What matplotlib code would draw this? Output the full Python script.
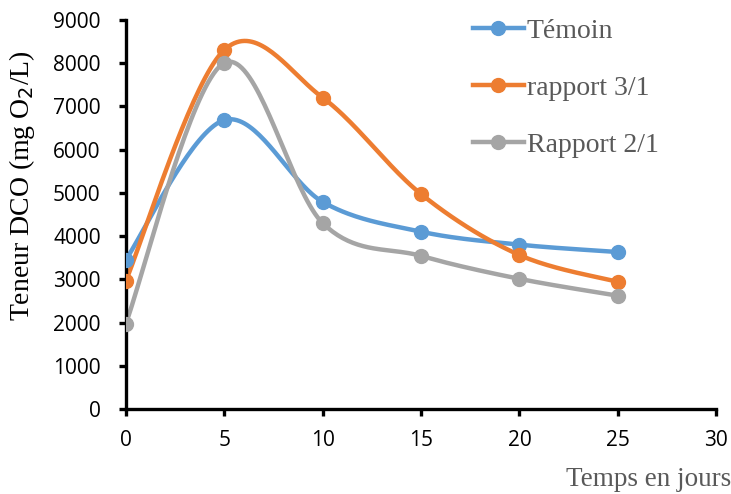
import matplotlib
matplotlib.use('agg')
import matplotlib.pyplot as plt
import numpy as np

jours = [0, 5, 10, 15, 20, 25]
temoin = [3450, 6680, 4790, 4100, 3800, 3630]
rapport_31 = [2960, 8300, 7200, 4970, 3560, 2940]
rapport_21 = [1970, 8000, 4300, 3540, 3010, 2620]

series = [("Témoin", temoin, "#5B9BD5"),
          ("rapport 3/1", rapport_31, "#ED7D31"),
          ("Rapport 2/1", rapport_21, "#A5A5A5")]


def smooth(x, y, n=40):
    # Excel-style smoothed line: Bezier segments with Catmull-Rom control points
    x = np.asarray(x, float)
    y = np.asarray(y, float)
    px = np.concatenate([[x[0]], x, [x[-1]]])
    py = np.concatenate([[y[0]], y, [y[-1]]])
    t = np.linspace(0, 1, n)[:, None]
    out_x, out_y = [], []
    for i in range(1, len(px) - 2):
        p0 = np.array([px[i], py[i]])
        p3 = np.array([px[i + 1], py[i + 1]])
        p1 = p0 + (np.array([px[i + 1], py[i + 1]]) - np.array([px[i - 1], py[i - 1]])) / 6
        p2 = p3 - (np.array([px[i + 2], py[i + 2]]) - np.array([px[i], py[i]])) / 6
        b = ((1 - t) ** 3) * p0 + 3 * ((1 - t) ** 2) * t * p1 + 3 * (1 - t) * t ** 2 * p2 + t ** 3 * p3
        out_x.extend(b[:, 0])
        out_y.extend(b[:, 1])
    return out_x, out_y


fig = plt.figure(figsize=(7.31, 4.94), dpi=100)
ax = fig.add_axes([0.172, 0.172, 0.808, 0.788])

for name, vals, col in series:
    sx, sy = smooth(jours, vals)
    ax.plot(sx, sy, color=col, lw=3.2, solid_capstyle='round', zorder=2)
    ax.plot(jours, vals, 'o', color=col, ms=10, zorder=3)
    ax.plot([], [], '-o', color=col, lw=3.2, ms=10, label=name)

ax.set_xlim(0, 30)
ax.set_ylim(0, 9000)
ax.set_xticks(range(0, 31, 5))
ax.set_yticks(range(0, 9001, 1000))
for s in ['top', 'right']:
    ax.spines[s].set_visible(False)
for s in ['left', 'bottom']:
    ax.spines[s].set_linewidth(2.4)
ax.tick_params(width=2.4, length=5, direction='out')
ax.tick_params(axis='y', pad=13)
ax.tick_params(axis='x', pad=10)
for lab in ax.get_xticklabels() + ax.get_yticklabels():
    lab.set_family('Open Sans')
    lab.set_fontsize(15)

ax.set_ylabel("Teneur DCO (mg O$_2$/L)", family='Liberation Serif', fontsize=20)
ax.yaxis.set_label_coords(-0.15, 0.575)
ax.set_xlabel("Temps en jours", family='Liberation Serif', fontsize=19.5, color='#595959', ha='right')
ax.xaxis.set_label_coords(1.025, -0.148)

leg = ax.legend(loc='upper left', bbox_to_anchor=(0.545, 1.068), frameon=False,
                prop={'family': 'Liberation Serif', 'size': 20},
                handlelength=1.85, handletextpad=0.1, labelspacing=1.14)
for t in leg.get_texts():
    t.set_color('#595959')

fig.savefig("out.png", dpi=100)
